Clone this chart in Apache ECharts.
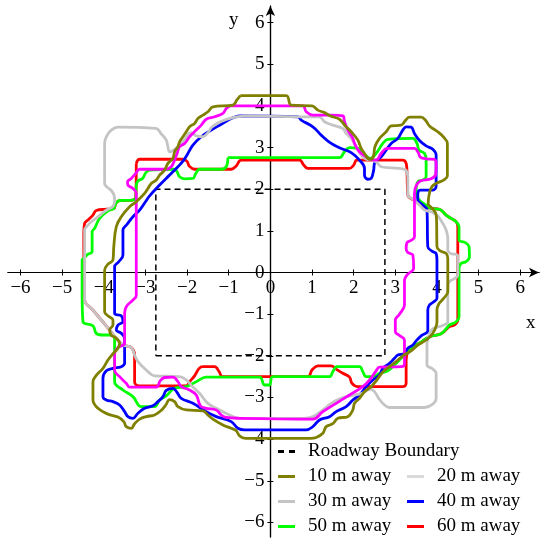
<!DOCTYPE html>
<html>
<head>
<meta charset="utf-8">
<script src="https://cdn.jsdelivr.net/npm/echarts@6/dist/echarts.min.js"></script>
<style>
  html, body { margin: 0; padding: 0; background: #fff; }
  #main { width: 550px; height: 550px; }
</style>
</head>
<body>
<div id="main"></div>
<script>
// tick values on both axes
var tickValues = [-6, -5, -4, -3, -2, -1, 0, 1, 2, 3, 4, 5, 6];

// roadway boundary rectangle
var roadway = [[-2.75, -2], [2.75, -2], [2.75, 2], [-2.75, 2], [-2.75, -2]];

// 10 m away (olive)
var away10 = [
  [-0.72,4.25],[0.38,4.25],[0.5,4.02],[1.0,4.0],[1.14,3.9],[1.3,3.84],[1.44,3.76],[1.66,3.68],[1.8,3.52],
  [1.94,3.38],[2.1,3.18],[2.18,2.98],[2.26,2.86],[2.34,2.74],[2.42,2.72],[2.48,2.82],[2.51,3.02],[2.62,3.22],
  [2.78,3.38],[2.9,3.52],[3.14,3.54],[3.25,3.66],[3.34,3.73],[3.62,3.73],[3.73,3.65],[3.82,3.52],[4.02,3.38],
  [4.16,3.25],[4.25,3.1],[4.25,2.32],[4.16,2.22],[3.98,2.14],[3.87,2.05],[3.81,1.86],[3.79,1.66],[3.89,1.54],
  [3.97,1.42],[3.99,1.26],[4.0,0.62],[4.08,0.52],[4.22,0.46],[4.26,0.34],[4.26,-0.46],[4.16,-0.62],[4.04,-0.76],
  [4.0,-0.9],[4.0,-1.18],[3.9,-1.46],[3.74,-1.62],[3.54,-1.74],[3.38,-1.88],[3.18,-2.0],[3.02,-2.14],[2.86,-2.26],
  [2.7,-2.39],[2.54,-2.6],[2.42,-2.74],[2.26,-2.86],[2.14,-3.02],[2.02,-3.14],[1.98,-3.3],[1.86,-3.46],[1.62,-3.5],
  [1.5,-3.63],[1.34,-3.7],[1.26,-3.86],[1.1,-3.96],[0.96,-3.98],[-0.6,-3.98],[-0.74,-3.92],[-0.82,-3.8],
  [-0.94,-3.74],[-1.14,-3.66],[-1.38,-3.52],[-1.5,-3.42],[-1.62,-3.32],[-2.02,-3.3],[-2.22,-3.22],[-2.3,-3.1],
  [-2.42,-3.05],[-2.51,-3.18],[-2.62,-3.31],[-2.78,-3.42],[-2.98,-3.46],[-3.14,-3.52],[-3.26,-3.63],[-3.34,-3.74],
  [-3.46,-3.7],[-3.52,-3.58],[-3.66,-3.47],[-3.9,-3.4],[-4.14,-3.26],[-4.26,-3.06],[-4.26,-2.62],[-4.19,-2.48],
  [-4.02,-2.3],[-3.9,-2.1],[-3.78,-1.95],[-3.66,-1.82],[-3.62,-1.7],[-3.7,-1.58],[-3.82,-1.5],[-3.86,-1.38],
  [-3.78,-1.26],[-3.78,-1.14],[-3.9,-1.04],[-3.98,-0.94],[-3.98,0.06],[-3.9,0.2],[-3.78,0.3],[-3.76,0.62],
  [-3.7,1.1],[-3.58,1.34],[-3.38,1.58],[-3.22,1.7],[-3.02,1.9],[-2.94,2.02],[-2.86,2.14],[-2.74,2.22],[-2.66,2.34],
  [-2.54,2.46],[-2.46,2.62],[-2.34,2.74],[-2.3,2.9],[-2.22,3.02],[-2.18,3.14],[-2.1,3.26],[-2.02,3.38],[-1.94,3.5],
  [-1.82,3.58],[-1.74,3.7],[-1.62,3.78],[-1.5,3.86],[-1.38,3.98],[-0.9,4.02],[-0.8,4.15],[-0.72,4.25]
];

// 20 m away (magenta)
var away20 = [
  [-0.98,4.0],[0.78,4.0],[0.86,3.86],[1.02,3.78],[1.46,3.78],[1.74,3.76],[1.78,3.62],[1.86,3.42],[1.98,3.22],
  [2.02,3.1],[2.14,2.9],[2.3,2.78],[2.38,2.72],[2.54,2.7],[2.66,2.86],[2.8,2.98],[3.46,2.98],[3.55,2.88],
  [3.6,2.77],[3.74,2.73],[3.94,2.72],[3.98,2.58],[3.97,2.36],[3.86,2.25],[3.6,2.2],[3.5,2.08],[3.46,1.9],
  [3.46,0.86],[3.38,0.77],[3.28,0.72],[3.26,0.58],[3.3,0.48],[3.42,0.42],[3.44,0.1],[3.3,-0.04],[3.22,-0.18],
  [3.22,-0.78],[3.1,-1.0],[3.0,-1.14],[3.0,-1.42],[3.1,-1.51],[3.22,-1.62],[3.22,-2.2],[3.14,-2.26],[2.62,-2.27],
  [2.54,-2.36],[2.38,-2.58],[2.22,-2.74],[1.9,-2.94],[1.58,-3.14],[1.26,-3.34],[1.02,-3.52],[-0.74,-3.5],
  [-1.06,-3.48],[-1.18,-3.42],[-1.3,-3.3],[-1.54,-3.26],[-1.68,-3.2],[-1.78,-2.94],[-1.94,-2.82],[-2.14,-2.74],
  [-2.22,-2.62],[-2.34,-2.51],[-2.54,-2.52],[-2.64,-2.59],[-2.74,-2.75],[-3.38,-2.75],[-3.46,-2.66],[-3.62,-2.5],
  [-3.74,-2.35],[-3.74,-1.94],[-3.66,-1.8],[-3.5,-1.7],[-3.5,-0.98],[-3.46,-0.82],[-3.3,-0.66],[-3.22,-0.55],
  [-3.22,1.9],[-3.3,2.02],[-3.42,2.1],[-3.43,2.18],[-3.34,2.26],[-3.23,2.38],[-3.14,2.48],[-2.5,2.48],[-2.38,2.54],
  [-2.3,2.7],[-2.24,2.86],[-2.18,3.02],[-2.06,3.1],[-1.94,3.26],[-1.78,3.42],[-1.66,3.54],[-1.54,3.68],
  [-1.34,3.74],[-1.14,3.82],[-1.06,3.94],[-0.98,4.0]
];

// 30 m away (grey)
var away30 = [
  [-0.6,3.76],[0.7,3.74],[1.18,3.74],[1.3,3.62],[1.5,3.54],[1.74,3.46],[1.82,3.34],[1.94,3.22],[2.02,3.1],
  [2.08,2.98],[2.18,2.82],[2.3,2.72],[2.46,2.7],[2.56,2.64],[2.66,2.54],[3.1,2.5],[3.25,2.46],[3.3,2.3],
  [3.3,1.86],[3.42,1.76],[3.58,1.62],[3.7,1.5],[3.86,1.46],[4.02,1.36],[4.14,1.18],[4.22,1.02],[4.26,0.82],
  [4.26,0.54],[4.32,0.46],[4.5,0.4],[4.5,-0.06],[4.3,-0.22],[4.26,-0.34],[4.26,-1.18],[4.14,-1.27],[3.9,-1.35],
  [3.81,-1.5],[3.76,-1.7],[3.76,-2.22],[3.89,-2.31],[3.98,-2.42],[3.98,-3.02],[3.9,-3.16],[3.7,-3.24],
  [2.86,-3.24],[2.74,-3.18],[2.6,-3.02],[2.5,-2.86],[2.4,-2.8],[2.2,-2.9],[1.74,-3.0],[1.46,-3.14],[1.26,-3.3],
  [1.02,-3.46],[0.8,-3.5],[-0.74,-3.5],[-0.9,-3.46],[-1.22,-3.3],[-1.5,-3.14],[-1.7,-2.9],[-1.86,-2.75],
  [-2.02,-2.58],[-2.18,-2.5],[-2.78,-2.48],[-2.98,-2.34],[-3.18,-2.14],[-3.26,-1.98],[-3.34,-1.8],[-3.54,-1.74],
  [-3.7,-1.58],[-3.86,-1.38],[-4.06,-1.14],[-4.26,-0.9],[-4.46,-0.66],[-4.46,0.3],[-4.46,1.02],[-4.38,1.14],
  [-4.3,1.22],[-4.19,1.3],[-4.11,1.36],[-4.02,1.44],[-3.9,1.52],[-3.79,1.58],[-3.74,1.7],[-3.75,1.84],
  [-3.82,1.97],[-3.92,2.05],[-3.98,2.14],[-3.98,3.1],[-3.94,3.26],[-3.82,3.42],[-3.66,3.49],[-2.75,3.46],
  [-2.62,3.33],[-2.5,3.18],[-2.46,3.02],[-2.42,2.9],[-2.3,2.96],[-2.1,3.14],[-1.9,3.36],[-1.78,3.28],
  [-1.62,3.26],[-1.5,3.36],[-1.4,3.5],[-1.2,3.62],[-0.9,3.72],[-0.6,3.76]
];

// 40 m away (blue)
var away40 = [
  [-0.75,3.76],[0.66,3.74],[0.74,3.66],[1.02,3.5],[1.22,3.3],[1.46,3.1],[1.7,2.98],[1.94,2.88],[2.14,2.7],
  [2.26,2.5],[2.26,2.34],[2.34,2.24],[2.42,2.26],[2.48,2.46],[2.5,2.62],[2.66,2.78],[2.78,2.94],[2.9,3.1],
  [3.06,3.22],[3.18,3.42],[3.26,3.5],[3.38,3.49],[3.46,3.34],[3.58,3.17],[3.74,3.04],[3.9,2.96],[3.98,2.82],
  [3.98,2.08],[3.9,1.98],[3.6,1.98],[3.54,1.86],[3.54,1.74],[3.66,1.62],[3.76,1.5],[3.78,0.62],[3.9,0.5],
  [3.98,0.46],[4.0,0.3],[4.0,-0.62],[3.9,-0.72],[3.82,-0.78],[3.78,-0.9],[3.78,-1.4],[3.62,-1.52],[3.5,-1.64],
  [3.42,-1.74],[3.3,-1.82],[3.22,-1.94],[3.06,-1.98],[2.98,-2.06],[2.86,-2.18],[2.7,-2.3],[2.62,-2.46],
  [2.46,-2.58],[2.3,-2.74],[2.14,-2.94],[1.98,-3.06],[1.82,-3.22],[1.58,-3.34],[1.42,-3.46],[1.18,-3.54],
  [1.02,-3.7],[0.86,-3.78],[-0.62,-3.78],[-0.78,-3.74],[-0.94,-3.58],[-1.3,-3.46],[-1.54,-3.34],[-1.86,-3.14],
  [-2.14,-3.02],[-2.24,-2.88],[-2.34,-2.78],[-2.5,-2.83],[-2.58,-2.98],[-2.7,-3.1],[-2.82,-3.2],[-3.02,-3.26],
  [-3.18,-3.38],[-3.3,-3.5],[-3.42,-3.46],[-3.5,-3.34],[-3.62,-3.18],[-3.78,-3.1],[-3.94,-3.06],[-4.02,-2.98],
  [-4.02,-2.54],[-3.94,-2.36],[-3.78,-2.3],[-3.58,-2.26],[-3.5,-2.18],[-3.5,-1.58],[-3.58,-1.46],[-3.7,-1.38],
  [-3.66,-1.26],[-3.54,-1.18],[-3.58,-1.04],[-3.74,-0.98],[-3.74,0.14],[-3.64,0.26],[-3.54,0.42],[-3.54,1.02],
  [-3.44,1.16],[-3.3,1.34],[-3.14,1.5],[-3.0,1.7],[-2.9,1.84],[-2.66,2.1],[-2.42,2.34],[-2.22,2.54],[-2.08,2.7],
  [-1.98,2.86],[-1.86,3.06],[-1.66,3.26],[-1.42,3.42],[-1.18,3.56],[-0.94,3.7],[-0.75,3.76]
];

// 50 m away (green)
var away50 = [
  [-1.02,2.76],[0.7,2.76],[1.66,2.76],[1.78,2.9],[1.9,3.0],[2.1,2.98],[2.26,2.84],[2.4,2.74],[2.54,2.86],
  [2.7,3.1],[2.82,3.2],[3.42,3.22],[3.52,3.1],[3.57,2.94],[3.7,2.86],[3.74,2.7],[3.74,2.3],[3.65,2.22],
  [3.54,2.18],[3.5,2.02],[3.52,1.82],[3.62,1.7],[3.74,1.62],[3.86,1.54],[4.06,1.52],[4.22,1.38],[4.34,1.3],
  [4.46,1.22],[4.53,1.1],[4.53,0.78],[4.68,0.72],[4.77,0.62],[4.78,0.38],[4.7,0.26],[4.58,0.22],[4.53,0.1],
  [4.53,-1.06],[4.46,-1.18],[4.3,-1.26],[4.26,-1.3],[4.1,-1.47],[3.82,-1.54],[3.62,-1.67],[3.42,-1.78],
  [3.3,-1.91],[3.14,-2.06],[2.98,-2.22],[2.82,-2.36],[2.62,-2.42],[2.46,-2.5],[2.3,-2.5],[2.22,-2.38],
  [2.14,-2.26],[1.6,-2.26],[1.5,-2.38],[1.42,-2.5],[0.06,-2.5],[-0.02,-2.7],[-0.14,-2.7],[-0.26,-2.51],
  [-1.54,-2.51],[-1.78,-2.62],[-2.02,-2.74],[-2.3,-2.78],[-2.5,-2.96],[-2.66,-3.06],[-2.78,-3.22],[-3.1,-3.22],
  [-3.3,-2.98],[-3.54,-2.82],[-3.74,-2.62],[-3.74,-1.62],[-3.78,-1.5],[-4.02,-1.5],[-4.18,-1.46],[-4.26,-1.28],
  [-4.5,-1.18],[-4.52,-0.5],[-4.52,0.3],[-4.48,0.34],[-4.38,0.44],[-4.28,0.5],[-4.28,0.98],[-4.22,1.06],
  [-4.1,1.3],[-3.9,1.48],[-3.76,1.54],[-3.71,1.66],[-3.62,1.73],[-3.31,1.74],[-3.23,1.81],[-3.22,2.1],
  [-3.18,2.2],[-3.07,2.26],[-2.99,2.4],[-2.9,2.46],[-2.3,2.48],[-2.24,2.42],[-2.18,2.3],[-2.06,2.25],
  [-1.86,2.26],[-1.79,2.38],[-1.7,2.48],[-1.18,2.48],[-1.06,2.54],[-1.02,2.76]
];

// 60 m away (red)
var away60 = [
  [-3.22,2.62],[-3.14,2.72],[-2.1,2.72],[-2.0,2.67],[-1.95,2.56],[-1.82,2.48],[-0.94,2.48],[-0.82,2.56],
  [-0.7,2.7],[0.7,2.7],[0.8,2.58],[0.9,2.5],[1.9,2.5],[2.0,2.58],[2.08,2.7],[3.18,2.7],[3.26,2.62],[3.28,2.42],
  [3.3,1.86],[3.46,1.73],[3.66,1.6],[3.86,1.54],[4.06,1.52],[4.22,1.38],[4.34,1.3],[4.46,1.22],[4.5,1.1],
  [4.5,-1.14],[4.42,-1.26],[4.3,-1.3],[4.1,-1.47],[3.82,-1.54],[3.62,-1.67],[3.42,-1.78],[3.3,-1.91],
  [3.26,-2.1],[3.26,-2.66],[3.18,-2.74],[2.1,-2.74],[1.96,-2.66],[1.9,-2.51],[1.74,-2.42],[1.58,-2.32],
  [1.46,-2.24],[1.14,-2.24],[1.0,-2.34],[0.9,-2.5],[-1.15,-2.5],[-1.23,-2.38],[-1.34,-2.26],[-1.62,-2.26],
  [-1.71,-2.3],[-1.82,-2.48],[-1.94,-2.62],[-2.02,-2.72],[-3.15,-2.72],[-3.26,-2.62],[-3.26,-1.98],
  [-3.34,-1.8],[-3.54,-1.74],[-3.7,-1.58],[-3.86,-1.38],[-4.06,-1.14],[-4.26,-0.9],[-4.46,-0.66],[-4.48,0.94],
  [-4.46,1.18],[-4.38,1.26],[-4.26,1.38],[-4.18,1.49],[-3.94,1.52],[-3.76,1.54],[-3.71,1.66],[-3.62,1.73],
  [-3.31,1.74],[-3.23,1.81],[-3.22,2.62]
];

var serif = '"Liberation Serif", "Times New Roman", serif';
var chart = echarts.init(document.getElementById('main'));

// plot box: x -6.3..6.45, y -6.35..6.4, 531 px each way -> origin at (270.4, 272.5)
var xMin = -6.3, xMax = 6.45, yMin = -6.35, yMax = 6.4;
var gLeft = 8, gTop = 6, gSize = 531;
var x0 = gLeft + gSize * (0 - xMin) / (xMax - xMin);
var y0 = gTop + gSize * (yMax - 0) / (yMax - yMin);

function minus(v) { return String(v).replace('-', '\u2212'); }

function curve(name, data, color) {
  return {
    name: name, type: 'line', data: data, symbol: 'none', smooth: 0.4,
    lineStyle: { color: color, width: 2.8, join: 'round' }, itemStyle: { color: color },
    xAxisIndex: 0, yAxisIndex: 0, silent: true
  };
}

var lineBlack = { color: '#000', width: 1.2 };
var labelStyle = { customValues: tickValues, formatter: minus, margin: 6, color: '#000', fontFamily: serif, fontSize: 19 };
var legendText = { fontFamily: serif, fontSize: 19, color: '#000', padding: [0, 0, 0, 8] };

var option = {
  animation: false,
  backgroundColor: '#fff',
  grid: { left: gLeft, top: gTop, width: gSize, height: gSize, outerBoundsMode: 'none', containLabel: false },
  xAxis: [{
    type: 'value', min: xMin, max: xMax, position: 'bottom', offset: -(gTop + gSize - y0),
    axisLine: { onZero: false, symbol: ['none', 'arrow'], symbolSize: [7, 10], lineStyle: lineBlack },
    axisTick: { customValues: tickValues, length: 3, lineStyle: { color: '#000' } },
    axisLabel: labelStyle,
    splitLine: { show: false }
  }, {
    type: 'value', min: xMin, max: xMax, position: 'top', offset: -(y0 - gTop),
    axisLine: { onZero: false, lineStyle: lineBlack },
    axisTick: { customValues: tickValues, length: 3, lineStyle: { color: '#000' } },
    axisLabel: { show: false }, splitLine: { show: false }
  }],
  yAxis: [{
    type: 'value', min: yMin, max: yMax, position: 'left', offset: -(x0 - gLeft),
    axisLine: { onZero: false, symbol: ['none', 'arrow'], symbolSize: [7, 10], lineStyle: lineBlack },
    axisTick: { customValues: tickValues, length: 3, lineStyle: { color: '#000' } },
    axisLabel: labelStyle,
    splitLine: { show: false }
  }, {
    type: 'value', min: yMin, max: yMax, position: 'right', offset: -(gLeft + gSize - x0),
    axisLine: { onZero: false, lineStyle: lineBlack },
    axisTick: { customValues: tickValues, length: 3, lineStyle: { color: '#000' } },
    axisLabel: { show: false }, splitLine: { show: false }
  }],
  legend: [{
    left: 278, top: 442, padding: 0, itemWidth: 17, itemHeight: 3, selectedMode: false,
    icon: 'path://M0,0h6v3h-6z M11,0h6v3h-6z',
    textStyle: legendText,
    data: ['Roadway Boundary']
  }, {
    left: 278, top: 467, padding: 0, orient: 'vertical', itemGap: 6, itemWidth: 17, itemHeight: 3,
    selectedMode: false, icon: 'rect', textStyle: legendText,
    data: ['10 m away', '30 m away', '50 m away']
  }, {
    left: 407, top: 467, padding: 0, orient: 'vertical', itemGap: 6, itemWidth: 17, itemHeight: 3,
    selectedMode: false, icon: 'rect', textStyle: legendText,
    data: [{ name: '20 m away', itemStyle: { color: '#dadada' } }, '40 m away', '60 m away']
  }],
  graphic: [
    { type: 'text', left: 229, top: 11, style: { text: 'y', font: '19px ' + serif, fill: '#000' } },
    { type: 'text', left: 526, top: 314, style: { text: 'x', font: '19px ' + serif, fill: '#000' } }
  ],
  series: [
    { name: 'Roadway Boundary', type: 'line', data: roadway, symbol: 'none', silent: true,
      lineStyle: { color: '#000', width: 1.5, type: [6, 4] }, itemStyle: { color: '#000' } },
    curve('60 m away', away60, '#ff0000'),
    curve('50 m away', away50, '#00ff00'),
    curve('40 m away', away40, '#0000ff'),
    curve('30 m away', away30, '#c4c4c4'),
    curve('20 m away', away20, '#ff00ff'),
    curve('10 m away', away10, '#808000')
  ]
};
chart.setOption(option);
</script>
</body>
</html>
